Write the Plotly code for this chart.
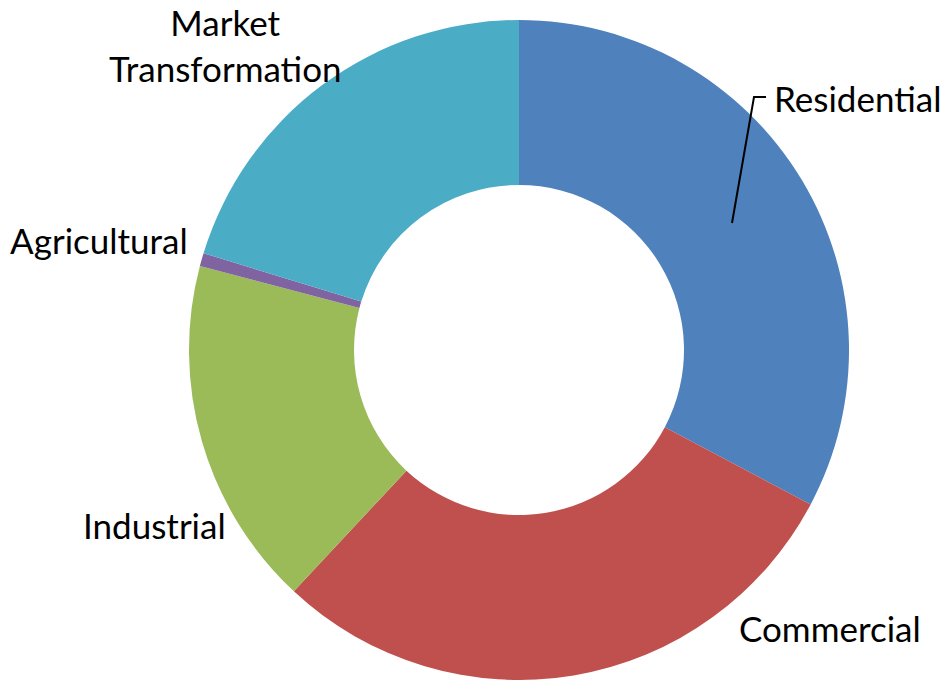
import plotly.graph_objects as go

W, H = 941, 680

# Data (share of total)
categories = ["Residential", "Commercial", "Industrial", "Agricultural", "Market<br>Transformation"]
values = [32.75, 29.2, 17.15, 0.64, 20.26]
colors = ["#4F81BD", "#C0504D", "#9BBB59", "#8064A2", "#4BACC6"]

# Label placement (pixels from top-left), anchors
label_pos = [(772, 98, "left"), (737, 628, "left"), (81, 525, "left"),
             (8, 240, "left"), (225, 45, "center")]

def px(x):
    return x / W

def py(y):
    return 1 - y / H

cx, cy, r = 519, 351, 331
fig = go.Figure(go.Pie(
    labels=categories,
    values=values,
    marker=dict(colors=colors, line=dict(color="white", width=0)),
    hole=0.5,
    sort=False,
    direction="clockwise",
    rotation=0,
    textinfo="none",
    hoverinfo="label+percent",
    showlegend=False,
    domain=dict(x=[px(cx - r), px(cx + r)], y=[0, py(cy - r)]),
))

annotations = []
for lab, (x, y, anc) in zip(categories, label_pos):
    annotations.append(dict(
        text=lab, x=px(x), y=py(y), xref="paper", yref="paper",
        xanchor=anc, yanchor="middle", align="center", showarrow=False,
        font=dict(family="Lato, Carlito, Calibri, sans-serif", size=35, color="#000000"),
    ))

# Leader line for Residential
shapes = [dict(
    type="path", xref="paper", yref="paper",
    path=f"M {px(732)} {py(223)} L {px(754)} {py(97)} L {px(766)} {py(97)}",
    line=dict(color="black", width=2),
)]

fig.update_layout(
    width=W, height=H,
    margin=dict(l=0, r=0, t=0, b=0),
    paper_bgcolor="white", plot_bgcolor="white",
    annotations=annotations,
    shapes=shapes,
)

fig.write_html("out.html")
